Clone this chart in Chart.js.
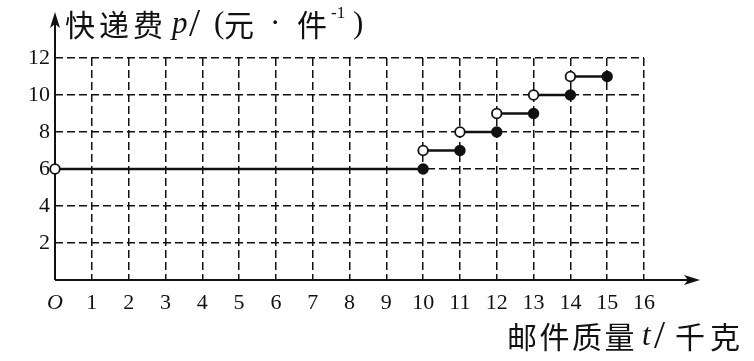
<!DOCTYPE html>
<html>
<head>
<meta charset="utf-8">
<script src="https://cdn.jsdelivr.net/npm/chart.js@4.4.1/dist/chart.umd.min.js"></script>
<style>
html,body{margin:0;padding:0;background:#fff;}
#wrap{width:754px;height:361px;}
</style>
</head>
<body>
<div id="wrap"><canvas id="feeChart"></canvas></div>
<script>
// step pieces: fee p on (start, end]
const stepStart = [0, 10, 11, 12, 13, 14];
const stepEnd = [10, 11, 12, 13, 14, 15];
const stepFee = [6, 7, 8, 9, 10, 11];

const xTicks = [0, 1, 2, 3, 4, 5, 6, 7, 8, 9, 10, 11, 12, 13, 14, 15, 16];
const xTickLabels = ["O", "1", "2", "3", "4", "5", "6", "7", "8", "9", "10", "11", "12", "13", "14", "15", "16"];
const yTicks = [0, 2, 4, 6, 8, 10, 12];
const yTickLabels = ["", "2", "4", "6", "8", "10", "12"];

const cjk = "30px 'Noto Sans CJK SC'";
const yTitleRuns = [
    {text: "快递费", font: cjk, dx: 0, ls: 4},
    {text: "p", font: "italic 31px 'Liberation Serif'", dx: 107},
    {text: "/", font: "40px 'Liberation Serif'", dx: 124},
    {text: "(", font: "31px 'Liberation Serif'", dx: 149},
    {text: "元", font: cjk, dx: 159},
    {text: "·", font: "31px 'Liberation Serif'", dx: 205},
    {text: "件", font: cjk, dx: 232},
    {text: "-1", font: "17px 'Liberation Serif'", dx: 266, rise: 11},
    {text: ")", font: "31px 'Liberation Serif'", dx: 288}
];
const xTitleRuns = [
    {text: "邮件质量", font: cjk, dx: 0, ls: 2.5},
    {text: "t", font: "italic 31px 'Liberation Serif'", dx: 135},
    {text: "/", font: "40px 'Liberation Serif'", dx: 147},
    {text: "千克", font: cjk, dx: 168, ls: 5}
];

const ink = "#111";

const datasets = stepFee.map((fee, i) => ({
    data: [
        {x: stepStart[i], y: fee},
        {x: stepEnd[i], y: fee}
    ],
    borderColor: ink,
    borderWidth: 2.6,
    pointRadius: 4.8,
    pointBorderWidth: 1.8,
    pointBorderColor: ink,
    pointBackgroundColor: ["#fff", ink],
    clip: false
}));

function drawRuns(ctx, runs, x, y){
    runs.forEach(run => {
        ctx.font = run.font;
        ctx.letterSpacing = (run.ls || 0) + "px";
        ctx.fillText(run.text, x + run.dx, y - (run.rise || 0));
    });
    ctx.letterSpacing = "0px";
}

const axesPlugin = {
    id: "axesArrows",
    beforeDatasetsDraw(chart){
        const ctx = chart.ctx;
        const xs = chart.scales.x;
        const ys = chart.scales.y;
        const x0 = xs.getPixelForValue(0);
        const y0 = ys.getPixelForValue(0);
        const xEnd = 700;
        const yEnd = 12;

        ctx.save();
        ctx.strokeStyle = ink;
        ctx.fillStyle = ink;
        ctx.lineWidth = 2;
        ctx.beginPath();
        ctx.moveTo(x0, y0);
        ctx.lineTo(xEnd - 6, y0);
        ctx.moveTo(x0, y0);
        ctx.lineTo(x0, yEnd + 6);
        ctx.stroke();

        ctx.beginPath();
        ctx.moveTo(xEnd, y0);
        ctx.lineTo(xEnd - 16, y0 - 5);
        ctx.lineTo(xEnd - 12, y0);
        ctx.lineTo(xEnd - 16, y0 + 5);
        ctx.closePath();
        ctx.fill();

        ctx.beginPath();
        ctx.moveTo(x0, yEnd);
        ctx.lineTo(x0 - 5, yEnd + 16);
        ctx.lineTo(x0, yEnd + 12);
        ctx.lineTo(x0 + 5, yEnd + 16);
        ctx.closePath();
        ctx.fill();
        ctx.restore();
    },
    afterDraw(chart){
        const ctx = chart.ctx;
        const x0 = chart.scales.x.getPixelForValue(0);
        ctx.save();
        ctx.fillStyle = ink;
        ctx.textBaseline = "middle";
        drawRuns(ctx, yTitleRuns, x0 + 10, 25);
        drawRuns(ctx, xTitleRuns, 507, 337);
        ctx.restore();
    }
};

new Chart(document.getElementById("feeChart"), {
    type: "line",
    data: {datasets: datasets},
    plugins: [axesPlugin],
    options: {
        responsive: true,
        maintainAspectRatio: false,
        animation: false,
        devicePixelRatio: 1,
        layout: {padding: {top: 58, right: 110, left: 0, bottom: 0}},
        plugins: {
            legend: {display: false},
            tooltip: {enabled: false}
        },
        scales: {
            x: {
                type: "linear",
                min: 0,
                max: 16,
                afterFit: s => { s.height = 81; },
                afterBuildTicks: s => { s.ticks = xTicks.map(v => ({value: v})); },
                grid: {color: ink, lineWidth: 1.5, drawTicks: false},
                border: {display: false, dash: [8, 4]},
                ticks: {
                    padding: 10,
                    color: ink,
                    maxRotation: 0,
                    autoSkip: false,
                    font: c => ({
                        family: "'Liberation Serif'",
                        size: 22,
                        style: c.tick && c.tick.value === 0 ? "italic" : "normal"
                    }),
                    callback: v => xTickLabels[xTicks.indexOf(v)]
                }
            },
            y: {
                min: 0,
                max: 12,
                afterFit: s => { s.width = 55; },
                afterBuildTicks: s => { s.ticks = yTicks.map(v => ({value: v})); },
                grid: {color: ink, lineWidth: 1.5, drawTicks: false},
                border: {display: false, dash: [8, 4]},
                ticks: {
                    padding: 5,
                    color: ink,
                    autoSkip: false,
                    font: {family: "'Liberation Serif'", size: 22},
                    callback: v => yTickLabels[yTicks.indexOf(v)]
                }
            }
        }
    }
});
</script>
</body>
</html>
